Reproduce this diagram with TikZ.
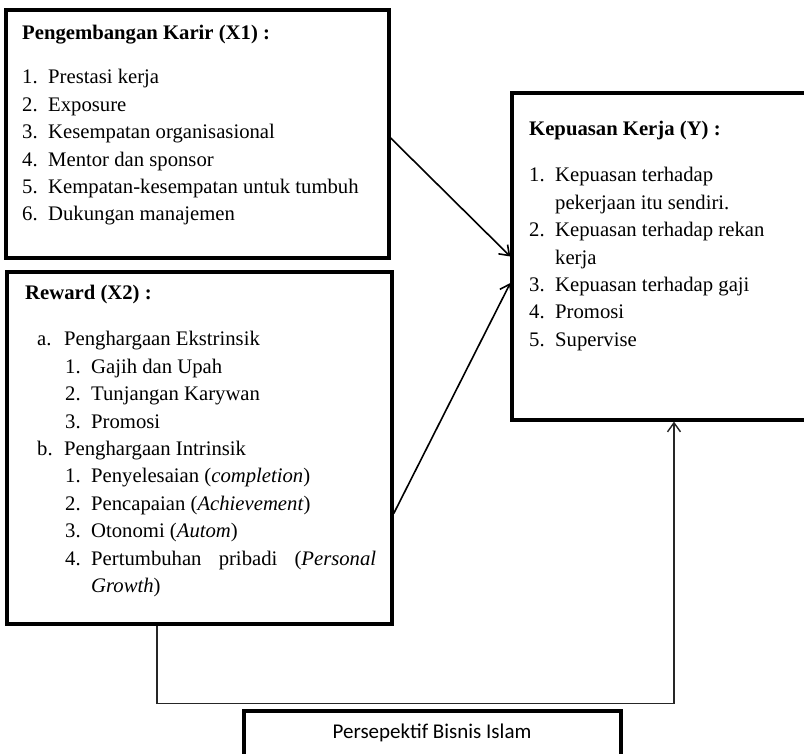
\documentclass[tikz,border=0pt]{standalone}
\usepackage{fontspec}
\setmainfont{Liberation Serif}
\newfontfamily\calib{Carlito}
\usetikzlibrary{arrows.meta,calc}
\begin{document}
\begin{tikzpicture}[x=1pt,y=-1pt,
  box/.style={draw=black, line width=3.3pt, inner sep=0pt},
  txt/.style={anchor=base west, inner sep=0pt, font=\fontsize{20.7}{27.4}\selectfont},
  conn/.style={line width=1.6pt, -{Straight Barb[length=9pt,width=13pt,line width=1.6pt]}},
  thinconn/.style={line width=1.1pt, draw=black!85, -{Straight Barb[length=9pt,width=13pt,line width=1.4pt]}}]
\useasboundingbox (0,0) rectangle (804,754);
\clip (0,0) rectangle (804,754);
\fill[white] (0,0) rectangle (804,754);

% boxes
\node[box, minimum width=383pt, minimum height=248pt] (x1) at (197.5,134) {};
\node[box, minimum width=385pt, minimum height=352pt] (rw) at (199.5,448) {};
\node[box, minimum width=324pt, minimum height=327pt] (y) at (674,256.5) {};
\node[box, minimum width=377pt, minimum height=80pt] (pb) at (432.5,751) {};

% texts
\node[txt] (x1t) at (22,39.5) {\parbox[t]{370pt}{%
\textbf{Pengembangan Karir (X1) :}\\[17.1pt]
\makebox[26pt][l]{1.}Prestasi kerja\\
\makebox[26pt][l]{2.}Exposure\\
\makebox[26pt][l]{3.}Kesempatan organisasional\\
\makebox[26pt][l]{4.}Mentor dan sponsor\\
\makebox[26pt][l]{5.}Kempatan-kesempatan untuk tumbuh\\
\makebox[26pt][l]{6.}Dukungan manajemen}};

\node[txt] (rwt) at (25,300) {\parbox[t]{370pt}{%
\textbf{Reward (X2) :}\\[18.6pt]
\hspace*{12pt}\makebox[27pt][l]{a.}Penghargaan Ekstrinsik\\
\hspace*{40pt}\makebox[26pt][l]{1.}Gajih dan Upah\\
\hspace*{40pt}\makebox[26pt][l]{2.}Tunjangan Karywan\\
\hspace*{40pt}\makebox[26pt][l]{3.}Promosi\\
\hspace*{12pt}\makebox[27pt][l]{b.}Penghargaan Intrinsik\\
\hspace*{40pt}\makebox[26pt][l]{1.}Penyelesaian (\textit{completion})\\
\hspace*{40pt}\makebox[26pt][l]{2.}Pencapaian (\textit{Achievement})\\
\hspace*{40pt}\makebox[26pt][l]{3.}Otonomi (\textit{Autom})\\
\hspace*{40pt}\makebox[26pt][l]{4.}\makebox[285pt][s]{Pertumbuhan pribadi (\textit{Personal}}\\
\hspace*{66pt}\textit{Growth})}};

\node[txt] (yt) at (529,135.5) {\parbox[t]{260pt}{%
\textbf{Kepuasan Kerja (Y) :}\\[19.1pt]
\makebox[26pt][l]{1.}Kepuasan terhadap\\
\hspace*{26pt}pekerjaan itu sendiri.\\
\makebox[26pt][l]{2.}Kepuasan terhadap rekan\\
\hspace*{26pt}kerja\\
\makebox[26pt][l]{3.}Kepuasan terhadap gaji\\
\makebox[26pt][l]{4.}Promosi\\
\makebox[26pt][l]{5.}Supervise}};

\node[inner sep=0pt, font=\calib\fontsize{21}{25}\selectfont] (pbt) at (432,733) {Persepektif Bisnis Islam};

% connectors
\draw[conn] ($(x1.east)+(0,4)$) -- (y.west);
\draw[conn] ($(rw.south east)+(0,-112)$) -- ($(y.west)+(0,26.5)$);
\draw[thinconn] ($(rw.south west)+(151.6,0)$) -- ++(0,77.5) -| (y.south);
\end{tikzpicture}
\end{document}
